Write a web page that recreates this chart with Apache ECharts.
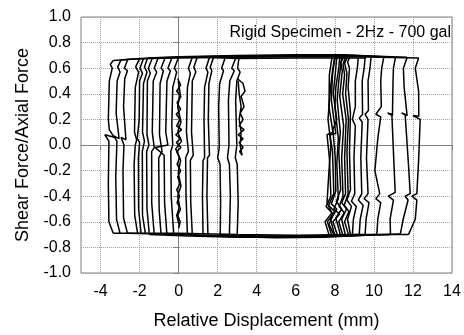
<!DOCTYPE html>
<html>
<head>
<meta charset="utf-8">
<script src="https://cdn.jsdelivr.net/npm/echarts@6/dist/echarts.min.js"></script>
<style>
  html, body { margin: 0; padding: 0; background: #fff; }
  #chart { width: 464px; height: 335px; }
</style>
</head>
<body>
<div id="chart"></div>
<script>
// tick labels on x (axis starts at -5, labels on even numbers)
const xTicks = [-4, -2, 0, 2, 4, 6, 8, 10, 12, 14];

// thick top band of the loops (many overlapping passes)
const topEdges = [
  [[-3.35, 0.66], [-2.5, 0.67], [-1.5, 0.675], [0, 0.68], [3, 0.685], [6, 0.69], [9, 0.69], [12.3, 0.68]],
  [[-2.95, 0.665], [-2, 0.675], [0, 0.685], [3, 0.695], [6, 0.7], [9, 0.7], [11.7, 0.685]],
  [[-1.6, 0.68], [0, 0.69], [3, 0.7], [6, 0.705], [8.5, 0.705], [10.5, 0.69]],
  [[0.7, 0.69], [3, 0.675], [6, 0.68], [8.5, 0.68], [9.6, 0.68]],
  [[2.4, 0.69], [5, 0.695], [8.2, 0.695]]
];

// thick bottom band
const bottomEdges = [
  [[-3.35, -0.69], [-2, -0.69], [0, -0.69], [3, -0.7], [6, -0.705], [9, -0.7], [11.77, -0.7]],
  [[-2.6, -0.69], [-1, -0.695], [1, -0.705], [4, -0.715], [7, -0.715], [9.5, -0.705], [11.35, -0.695]],
  [[-1.5, -0.7], [0.5, -0.71], [3, -0.72], [6, -0.72], [8.5, -0.71], [10.85, -0.7]],
  [[0.45, -0.7], [2.5, -0.715], [5, -0.725], [7.5, -0.72], [10.15, -0.7]],
  [[2.1, -0.7], [4, -0.71], [7, -0.71], [9.3, -0.7]]
];

// unloading branches on the left side
const leftBranches = [
  [[-3.35, -0.69], [-3.57, -0.6], [-3.6, -0.3], [-3.57, 0.03], [-3.78, 0.08], [-3.3, 0.06], [-3.55, 0.12], [-3.6, 0.2], [-3.55, 0.5], [-3.4, 0.6], [-3.5, 0.63], [-3.35, 0.66]],
  [[-3.0, -0.69], [-3.18, -0.58], [-3.22, -0.25], [-3.16, 0.03], [-3.32, 0.07], [-3.05, 0.05], [-3.2, 0.25], [-3.15, 0.5], [-3.0, 0.57], [-3.12, 0.61], [-2.95, 0.665]],
  [[-2.62, -0.69], [-2.82, -0.57], [-2.85, -0.2], [-2.8, 0.0], [-2.95, 0.06], [-2.7, 0.04], [-2.82, 0.3], [-2.76, 0.52], [-2.62, 0.58], [-2.78, 0.6], [-2.6, 0.67]],
  [[-2.1, -0.69], [-2.25, -0.55], [-2.28, -0.15], [-2.22, 0.0], [-2.15, 0.04], [-2.26, 0.1], [-2.22, 0.45], [-2.05, 0.57], [-2.2, 0.61], [-2.0, 0.675]],
  [[-1.92, -0.695], [-2.05, -0.5], [-2.06, -0.1], [-2.0, 0.02], [-2.12, 0.05], [-2.02, 0.2], [-2.0, 0.5], [-1.85, 0.56], [-1.98, 0.6], [-1.8, 0.675]],
  [[-1.7, -0.695], [-1.85, -0.55], [-1.86, -0.05], [-1.75, 0.03], [-1.85, 0.1], [-1.8, 0.48], [-1.62, 0.57], [-1.75, 0.61], [-1.6, 0.675]],
  [[-1.5, -0.7], [-1.62, -0.5], [-1.64, -0.05], [-1.52, 0.0], [-1.62, 0.08], [-1.6, 0.5], [-1.45, 0.56], [-1.55, 0.6], [-1.35, 0.68]],
  [[-1.25, -0.7], [-1.38, -0.45], [-1.38, -0.05], [-1.25, -0.02], [-1.35, 0.1], [-1.3, 0.5], [-1.12, 0.57], [-1.25, 0.6], [-1.05, 0.68]],
  [[-0.9, -0.7], [-1.0, -0.5], [-1.02, -0.1], [-0.85, -0.05], [-0.98, 0.08], [-0.95, 0.48], [-0.78, 0.58], [-0.9, 0.6], [-0.7, 0.68]],
  [[-0.6, -0.7], [-0.72, -0.45], [-0.74, -0.08], [-1.2, -0.02], [-0.55, 0.0], [-0.66, 0.1], [-0.6, 0.5], [-0.42, 0.58], [-0.55, 0.6], [-0.35, 0.68]],
  [[-0.25, -0.7], [-0.38, -0.4], [-0.4, -0.05], [-0.3, 0.0], [-0.35, 0.15], [-0.3, 0.45], [-0.1, 0.57], [-0.22, 0.6], [0.0, 0.685]],
  [[0.45, -0.7], [0.38, -0.4], [0.36, -0.1], [0.5, -0.05], [0.4, 0.1], [0.45, 0.45], [0.6, 0.56], [0.5, 0.6], [0.7, 0.685]],
  [[0.7, -0.7], [0.62, -0.45], [0.6, -0.12], [0.75, -0.08], [0.66, 0.1], [0.7, 0.5], [0.88, 0.57], [0.78, 0.61], [0.95, 0.685]],
  [[1.25, -0.7], [1.22, -0.4], [1.25, -0.12], [1.33, -0.1], [1.3, 0.2], [1.33, 0.45], [1.5, 0.57], [1.4, 0.6], [1.58, 0.685]],
  [[1.5, -0.7], [1.45, -0.4], [1.48, -0.1], [1.58, -0.08], [1.52, 0.2], [1.55, 0.48], [1.7, 0.58], [1.62, 0.61], [1.8, 0.69]],
  [[2.13, -0.7], [2.15, -0.45], [2.12, -0.15], [2.0, -0.1], [2.08, -0.02], [2.05, 0.3], [2.1, 0.48], [2.3, 0.58], [2.2, 0.6], [2.4, 0.69]],
  [[2.6, -0.7], [2.65, -0.4], [2.6, -0.15], [2.5, -0.1], [2.58, 0.0], [2.55, 0.35], [2.62, 0.5], [2.85, 0.58], [2.72, 0.6], [2.95, 0.69]],
  [[3.0, -0.7], [3.05, -0.45], [3.0, -0.15], [2.9, -0.1], [2.98, 0.0], [2.92, 0.35], [2.98, 0.5], [3.15, 0.57], [3.02, 0.6], [3.1, 0.69]]
];

// tight bundle of branches around 8 mm
const denseBranches = [
  [[7.7, -0.7], [7.5, -0.6], [7.85, -0.53], [7.55, -0.48], [7.8, -0.4], [7.72, -0.1], [7.6, 0.08], [7.9, 0.1], [7.7, 0.3], [7.72, 0.55], [7.85, 0.68]],
  [[7.85, -0.71], [7.62, -0.6], [7.98, -0.52], [7.68, -0.47], [7.95, -0.38], [7.88, -0.05], [7.75, 0.08], [8.05, 0.09], [7.82, 0.35], [7.88, 0.55], [8.0, 0.68]],
  [[8.0, -0.71], [7.78, -0.58], [8.1, -0.5], [7.82, -0.46], [8.05, -0.36], [8.02, -0.1], [7.9, 0.12], [8.1, 0.2], [7.92, 0.4], [8.05, 0.6], [8.1, 0.69]],
  [[8.15, -0.71], [7.9, -0.6], [8.25, -0.54], [7.95, -0.5], [8.18, -0.42], [8.1, -0.15], [8.18, 0.05], [8.0, 0.3], [8.05, 0.45], [8.2, 0.6], [8.25, 0.69]],
  [[8.3, -0.71], [8.05, -0.57], [8.35, -0.5], [8.08, -0.44], [8.3, -0.35], [8.2, -0.05], [8.28, 0.1], [8.12, 0.35], [8.2, 0.5], [8.3, 0.62], [8.35, 0.69]],
  [[8.42, -0.71], [8.2, -0.6], [8.48, -0.53], [8.22, -0.48], [8.42, -0.4], [8.35, -0.1], [8.45, 0.15], [8.25, 0.38], [8.38, 0.58], [8.3, 0.64], [8.45, 0.69]],
  [[8.55, -0.71], [8.35, -0.58], [8.6, -0.5], [8.35, -0.45], [8.55, -0.38], [8.5, -0.1], [8.58, 0.2], [8.4, 0.4], [8.5, 0.55], [8.42, 0.63], [8.55, 0.69]],
  [[8.7, -0.7], [8.5, -0.6], [8.72, -0.52], [8.48, -0.47], [8.68, -0.38], [8.62, -0.05], [8.7, 0.2], [8.55, 0.4], [8.62, 0.56], [8.5, 0.64], [8.65, 0.69]],
  [[8.8, -0.7], [8.65, -0.58], [8.85, -0.48], [8.62, -0.43], [8.8, -0.35], [8.75, -0.05], [8.8, 0.25], [8.68, 0.45], [8.75, 0.6], [8.65, 0.65], [8.78, 0.69]],
  [[7.95, -0.7], [7.7, -0.62], [7.9, -0.55], [7.6, -0.45], [7.7, -0.2], [7.8, 0.0], [7.65, 0.2], [7.78, 0.45], [7.9, 0.6], [8.0, 0.69]]
];

// separate branches on the right side
const rightBranches = [
  [[8.9, -0.7], [8.95, -0.58], [9.1, -0.48], [8.85, -0.44], [9.02, -0.38], [8.98, -0.1], [9.05, 0.15], [8.9, 0.2], [9.05, 0.3], [9.05, 0.5], [9.15, 0.6], [9.2, 0.68]],
  [[9.25, -0.7], [9.3, -0.58], [9.45, -0.47], [9.2, -0.43], [9.38, -0.38], [9.33, -0.1], [9.4, 0.18], [9.25, 0.21], [9.42, 0.24], [9.4, 0.5], [9.5, 0.6], [9.55, 0.68]],
  [[9.55, -0.7], [9.6, -0.58], [9.75, -0.45], [9.5, -0.42], [9.7, -0.38], [9.62, -0.1], [9.7, 0.2], [9.55, 0.24], [9.72, 0.27], [9.7, 0.5], [9.8, 0.6], [9.85, 0.68]],
  [[10.15, -0.7], [10.2, -0.58], [10.35, -0.45], [10.1, -0.42], [10.3, -0.38], [10.05, -0.2], [10.2, 0.05], [10.35, 0.22], [10.1, 0.24], [10.38, 0.3], [10.35, 0.5], [10.4, 0.6], [10.5, 0.68]],
  [[10.85, -0.7], [10.83, -0.58], [11.0, -0.43], [10.74, -0.4], [11.09, -0.37], [11.0, -0.05], [10.92, 0.24], [10.7, 0.25], [10.95, 0.23], [10.98, 0.5], [11.0, 0.6], [11.1, 0.68]],
  [[11.35, -0.7], [11.5, -0.58], [11.75, -0.43], [11.6, -0.4], [11.86, -0.38], [11.77, -0.15], [11.6, 0.24], [11.42, 0.25], [11.7, 0.23], [11.55, 0.45], [11.51, 0.6], [11.69, 0.68]],
  [[11.77, -0.7], [12.12, -0.58], [12.2, -0.43], [11.95, -0.4], [12.2, -0.38], [12.29, -0.12], [12.37, 0.2], [12.0, 0.23], [12.3, 0.225], [12.29, 0.42], [12.12, 0.6], [12.29, 0.68]]
];

// jittery trace near zero displacement
const noiseNearZero = [
  [-0.05, 0.52], [0.1, 0.47], [-0.1, 0.42], [0.12, 0.38], [-0.08, 0.33], [0.1, 0.28], [-0.12, 0.24], [0.08, 0.2],
  [-0.1, 0.15], [0.15, 0.12], [-0.15, 0.08], [0.1, 0.05], [-0.12, 0.02], [0.12, -0.02], [-0.1, -0.05], [0.05, -0.1],
  [-0.08, -0.15], [0.1, -0.2], [-0.05, -0.25], [0.08, -0.3], [-0.1, -0.35], [0.05, -0.4], [-0.08, -0.45], [0.1, -0.5],
  [-0.05, -0.55], [0.08, -0.6], [0.0, -0.65]
];
const noiseNearZeroBack = [
  [0.02, -0.62], [-0.1, -0.55], [0.05, -0.48], [-0.05, -0.4], [0.12, -0.32], [-0.02, -0.22], [0.1, -0.12],
  [-0.15, -0.03], [0.15, 0.03], [-0.05, 0.1], [0.12, 0.18], [-0.05, 0.3], [0.08, 0.4], [-0.02, 0.5]
];

// jittery trace near 3.2 mm
const noiseNearThree = [
  [3.0, 0.52], [3.3, 0.48], [3.4, 0.42], [3.2, 0.38], [3.35, 0.3], [3.15, 0.25], [3.3, 0.2], [3.1, 0.15],
  [3.35, 0.12], [3.05, 0.08], [3.3, 0.05], [3.1, 0.02], [3.3, -0.02], [3.12, -0.05], [3.25, -0.08], [3.15, 0.0],
  [3.2, 0.1], [3.1, 0.2], [3.2, 0.3], [3.1, 0.4], [3.05, 0.5]
];

const FONT = '"Liberation Sans", Arial, sans-serif';

const chart = echarts.init(document.getElementById('chart'), null, { renderer: 'canvas' });

const polylines = [].concat(
  topEdges, bottomEdges, leftBranches, denseBranches, rightBranches,
  [noiseNearZero, noiseNearZeroBack, noiseNearThree]
);

const option = {
  backgroundColor: '#fff',
  animation: false,
  textStyle: { fontFamily: FONT },
  grid: {
    left: 81, right: 12, top: 17, bottom: 59,
    show: true, borderColor: '#808080', borderWidth: 1
  },
  graphic: [{
    type: 'text',
    right: 13,
    top: 25,
    style: {
      text: 'Rigid Specimen - 2Hz - 700 gal',
      font: '16px ' + FONT,
      fill: '#000'
    }
  }],
  xAxis: {
    type: 'value',
    min: -5,
    max: 14,
    name: 'Relative Displacement (mm)',
    nameLocation: 'middle',
    nameGap: 39,
    nameTextStyle: { fontSize: 18, color: '#000', fontFamily: FONT },
    axisLine: { lineStyle: { color: '#808080', width: 1 } },
    axisTick: { customValues: xTicks, length: 5, lineStyle: { color: '#808080' } },
    axisLabel: { customValues: xTicks, fontSize: 16, color: '#000', margin: 11, fontFamily: FONT },
    splitLine: { show: true, lineStyle: { color: '#a0a0a0', type: [1, 1], width: 1 } }
  },
  yAxis: {
    type: 'value',
    min: -1,
    max: 1,
    interval: 0.2,
    name: 'Shear Force/Axial Force',
    nameLocation: 'middle',
    nameGap: 46,
    nameTextStyle: { fontSize: 18, color: '#000', fontFamily: FONT },
    axisLine: { show: true, lineStyle: { color: '#808080', width: 1 } },
    axisTick: { show: true, length: 5, lineStyle: { color: '#808080' } },
    axisLabel: {
      fontSize: 16, color: '#000', margin: 10, fontFamily: FONT,
      formatter: v => (Math.abs(v) < 1e-9 ? 0 : v).toFixed(1)
    },
    splitLine: { show: true, lineStyle: { color: '#a0a0a0', type: [1, 1], width: 1 } }
  },
  series: polylines.map(pts => ({
    type: 'line',
    data: pts,
    symbol: 'none',
    silent: true,
    lineStyle: { color: '#000', width: 1.5 }
  }))
};

chart.setOption(option);
</script>
</body>
</html>
